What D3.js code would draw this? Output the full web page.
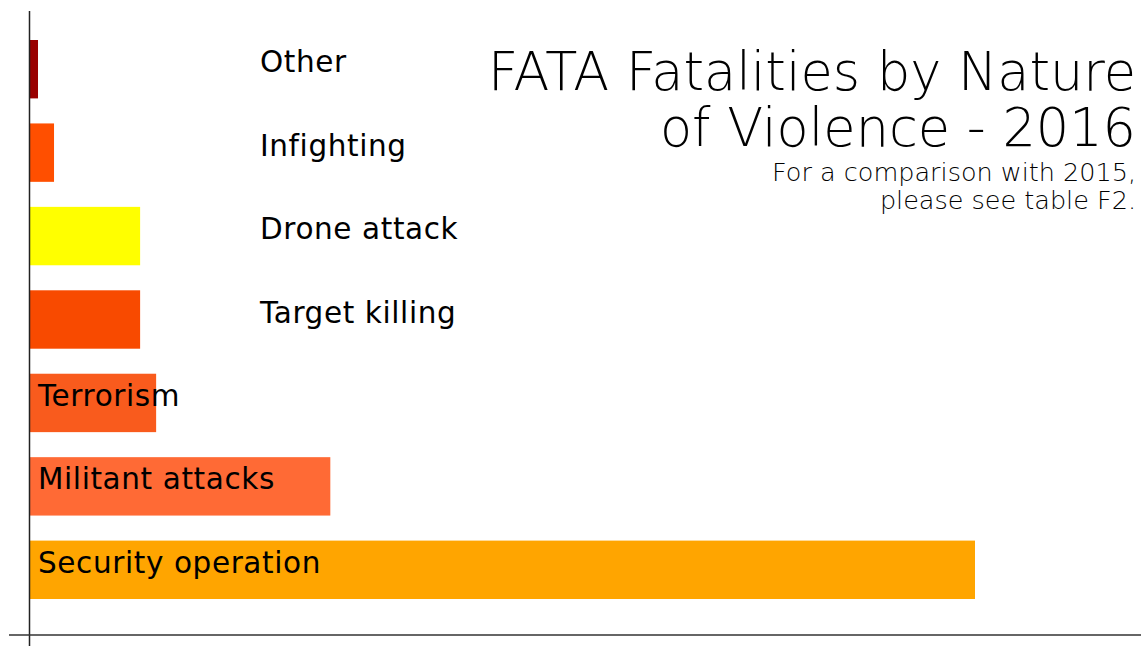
<!DOCTYPE html>
<html>
<head>
<meta charset="utf-8">
<script src="https://cdn.jsdelivr.net/npm/d3@7"></script>
<style>
  body { margin: 0; background: #fff; }
  svg { display: block; }
  text { font-family: "Century Gothic", "URW Gothic", "DejaVu Sans", sans-serif; font-weight: 300; fill: #000; }
</style>
</head>
<body>
<svg></svg>
<script>
var WIDTH = 1141;
var HEIGHT = 646;

// categories, top to bottom
var categories = ['Other', 'Infighting', 'Drone attack', 'Target killing', 'Terrorism', 'Militant attacks', 'Security operation'];
// fatalities
var values = [4, 12, 55, 55, 63, 150, 472];
var colors = ['#990000', '#ff4f00', '#ffff00', '#f84a00', '#f95b1d', '#ff6a35', '#ffa500'];

var titleLines = ['FATA Fatalities by Nature', 'of Violence - 2016'];
var subtitleLines = ['For a comparison with 2015,', 'please see table F2.'];

var svg = d3.select('svg')
  .attr('width', WIDTH)
  .attr('height', HEIGHT);

var xScale = d3.scaleLinear()
  .domain([0, d3.max(values)])
  .range([30, 975]);

var yScale = d3.scaleBand()
  .domain(categories)
  .range([40, 599])
  .paddingInner(0.3)
  .paddingOuter(0);

// bars
svg.append('g')
  .selectAll('rect')
  .data(categories)
  .enter()
  .append('rect')
  .attr('x', xScale(0))
  .attr('y', function(d) { return yScale(d); })
  .attr('width', function(d, i) { return xScale(values[i]) - xScale(0); })
  .attr('height', yScale.bandwidth())
  .attr('fill', function(d, i) { return colors[i]; });

// labels: inside the bar for big ones, off to the side for small ones
svg.append('g')
  .selectAll('text')
  .data(categories)
  .enter()
  .append('text')
  .attr('x', function(d, i) { return values[i] >= 60 ? xScale(0) + 8 : 260; })
  .attr('y', function(d) { return yScale(d) + yScale.bandwidth() / 2 + 3; })
  .style('font-size', '29.5px')
  .style('font-weight', 400)
  .style('letter-spacing', '0.6px')
  .text(function(d) { return d; });

// axis lines
svg.append('line')
  .attr('x1', 29.5).attr('x2', 29.5)
  .attr('y1', 11).attr('y2', HEIGHT)
  .attr('stroke', '#222')
  .attr('stroke-width', 1.5);
svg.append('line')
  .attr('x1', 9).attr('x2', WIDTH)
  .attr('y1', 635).attr('y2', 635)
  .attr('stroke', '#333')
  .attr('stroke-width', 1.5);

// title block, right aligned
svg.append('g')
  .selectAll('text')
  .data(titleLines)
  .enter()
  .append('text')
  .attr('x', 1136)
  .attr('y', function(d, i) { return 90 + i * 56; })
  .attr('text-anchor', 'end')
  .style('font-size', '52.5px')
  .text(function(d) { return d; });

svg.append('g')
  .selectAll('text')
  .data(subtitleLines)
  .enter()
  .append('text')
  .attr('x', 1136)
  .attr('y', function(d, i) { return 181 + i * 28; })
  .attr('text-anchor', 'end')
  .style('font-size', '25.5px')
  .text(function(d) { return d; });
</script>
</body>
</html>
